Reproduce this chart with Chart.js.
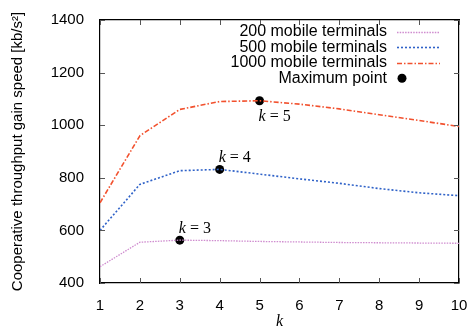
<!DOCTYPE html>
<html>
<head>
<meta charset="utf-8">
<script src="https://cdn.jsdelivr.net/npm/chart.js@4"></script>
<style>
  html, body { margin: 0; padding: 0; background: #fff; }
  #wrap { width: 471px; height: 331px; }
</style>
</head>
<body>
<div id="wrap"><canvas id="gainChart"></canvas></div>
<script>
// k = 1 .. 10
const kValues = [1, 2, 3, 4, 5, 6, 7, 8, 9, 10]
const speed200 = [462, 555, 563, 561, 558, 556, 554, 553, 552, 551]
const speed500 = [600, 775, 827, 832, 814, 796, 779, 759, 743, 732]
const speed1000 = [705, 960, 1060, 1090, 1093, 1080, 1062, 1040, 1018, 995]
const maxK = [3, 4, 5]
const maxValue = [563, 832, 1093]
const yTicks = [400, 600, 800, 1000, 1200, 1400]

const sans = "'Liberation Sans', Arial, sans-serif"
const serif = "'Liberation Serif', 'Times New Roman', serif"

const toXY = (vals) => vals.map((v, i) => ({ x: kValues[i], y: v }))

// 内向きの目盛り線、凡例、k=… ラベルを描く
const gnuplotLook = {
  id: 'gnuplotLook',
  afterDatasetsDraw(chart) {
    const { ctx, chartArea: a, scales: { x, y } } = chart
    ctx.save()
    ctx.strokeStyle = '#555'
    ctx.lineWidth = 1
    ctx.beginPath()
    kValues.forEach((k) => {
      const px = Math.round(x.getPixelForValue(k)) + 0.5
      ctx.moveTo(px, a.bottom); ctx.lineTo(px, a.bottom - 5)
      ctx.moveTo(px, a.top); ctx.lineTo(px, a.top + 5)
    })
    yTicks.forEach((t) => {
      const py = Math.round(y.getPixelForValue(t)) + 0.5
      ctx.moveTo(a.left, py); ctx.lineTo(a.left + 5, py)
      ctx.moveTo(a.right, py); ctx.lineTo(a.right - 5, py)
    })
    ctx.stroke()

    // 凡例
    const legendRows = chart.data.datasets
    ctx.font = '16px ' + sans
    ctx.textAlign = 'right'
    ctx.textBaseline = 'middle'
    legendRows.forEach((ds, i) => {
      const ly = 32 + i * 15.4
      ctx.fillStyle = '#000'
      ctx.fillText(ds.label, 387, ly)
      if (ds.showLine === false) {
        ctx.beginPath()
        ctx.arc(402, ly, 4.5, 0, Math.PI * 2)
        ctx.fill()
      } else {
        ctx.beginPath()
        ctx.strokeStyle = ds.borderColor
        ctx.lineWidth = ds.borderWidth
        ctx.setLineDash(ds.borderDash)
        ctx.moveTo(397, Math.round(ly) + 0.5)
        ctx.lineTo(440, Math.round(ly) + 0.5)
        ctx.stroke()
        ctx.setLineDash([])
      }
    })

    // k = n ラベル
    const meta = chart.getDatasetMeta(3)
    meta.data.forEach((pt, i) => {
      const below = i === 2
      const tx = pt.x - 1
      const ty = below ? pt.y + 20 : pt.y - 7
      ctx.textAlign = 'left'
      ctx.textBaseline = 'alphabetic'
      ctx.fillStyle = '#000'
      ctx.font = 'italic 16px ' + serif
      ctx.fillText('k', tx, ty)
      const w = ctx.measureText('k').width
      ctx.font = '16px ' + serif
      ctx.fillText(' = ' + maxK[i], tx + w, ty)
    })
    ctx.restore()
  }
}

new Chart(document.getElementById('gainChart'), {
  type: 'line',
  data: {
    datasets: [
      {
        label: '200 mobile terminals',
        data: toXY(speed200),
        borderColor: '#cf8ccf',
        borderWidth: 1.3,
        borderDash: [1.5, 1.2],
        pointRadius: 0,
        fill: false
      },
      {
        label: '500 mobile terminals',
        data: toXY(speed500),
        borderColor: '#2f62c8',
        borderWidth: 1.6,
        borderDash: [2, 2],
        pointRadius: 0,
        fill: false
      },
      {
        label: '1000 mobile terminals',
        data: toXY(speed1000),
        borderColor: '#f2512e',
        borderWidth: 1.6,
        borderDash: [5, 2, 1.5, 2],
        pointRadius: 0,
        fill: false
      },
      {
        label: 'Maximum point',
        data: maxK.map((k, i) => ({ x: k, y: maxValue[i] })),
        showLine: false,
        pointRadius: 4.5,
        pointBorderWidth: 0,
        pointBackgroundColor: '#000',
        pointBorderColor: '#000',
        borderColor: '#000'
      }
    ]
  },
  options: {
    responsive: true,
    maintainAspectRatio: false,
    animation: false,
    layout: { padding: { top: 20, right: 12, left: 0, bottom: 0 } },
    plugins: {
      legend: { display: false },
      tooltip: { enabled: false }
    },
    scales: {
      x: {
        type: 'linear',
        min: 1,
        max: 10,
        grid: { display: false },
        border: { display: true, color: '#000', width: 1.2 },
        ticks: {
          stepSize: 1,
          padding: 6,
          color: '#000',
          font: { family: sans, size: 15 }
        },
        title: {
          display: true,
          text: 'k',
          color: '#000',
          font: { family: serif, size: 16, style: 'italic' },
          padding: { top: 0, bottom: 0 }
        },
        afterFit(scale) {
          scale.height = 48
          scale.paddingLeft = 0
          scale.paddingRight = 0
        }
      },
      y: {
        min: 400,
        max: 1400,
        grid: { display: false },
        border: { display: true, color: '#000', width: 1.2 },
        ticks: {
          stepSize: 200,
          padding: 8,
          color: '#000',
          font: { family: sans, size: 15 },
          callback: (v) => String(v)
        },
        title: {
          display: true,
          text: 'Cooperative throughput gain speed [kb/s²]',
          color: '#000',
          font: { family: sans, size: 15 },
          padding: { top: 9, bottom: 0 }
        },
        afterFit(scale) { scale.width = 100 }
      },
      // 上と右の枠線
      x2: {
        type: 'linear', position: 'top', min: 1, max: 10,
        grid: { display: false },
        border: { display: true, color: '#000', width: 1.2 },
        ticks: { display: false },
        afterFit(scale) { scale.height = 0 }
      },
      y2: {
        position: 'right', min: 400, max: 1400,
        grid: { display: false },
        border: { display: true, color: '#000', width: 1.2 },
        ticks: { display: false },
        afterFit(scale) { scale.width = 0 }
      }
    }
  },
  plugins: [gnuplotLook]
})
</script>
</body>
</html>
